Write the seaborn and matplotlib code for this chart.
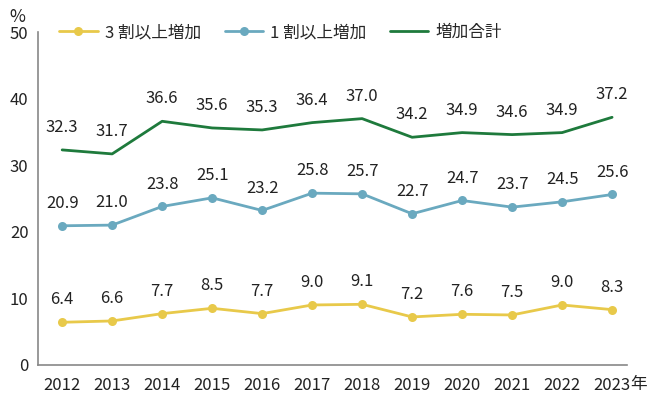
import matplotlib
matplotlib.use('Agg')
import matplotlib.pyplot as plt
import seaborn as sns
import pandas as pd

sns.set_theme(style='white')
plt.rcParams['font.family'] = ['Noto Sans CJK JP', 'DejaVu Sans']

# --- data ---
years = [2012, 2013, 2014, 2015, 2016, 2017, 2018, 2019, 2020, 2021, 2022, 2023]
up30 = [6.4, 6.6, 7.7, 8.5, 7.7, 9.0, 9.1, 7.2, 7.6, 7.5, 9.0, 8.3]
up10 = [20.9, 21.0, 23.8, 25.1, 23.2, 25.8, 25.7, 22.7, 24.7, 23.7, 24.5, 25.6]
total = [32.3, 31.7, 36.6, 35.6, 35.3, 36.4, 37.0, 34.2, 34.9, 34.6, 34.9, 37.2]
series_names = ['3 割以上増加', '1 割以上増加', '増加合計']
colors = ['#e8c94a', '#6aa9bf', '#1e7a3c']

df = pd.DataFrame({'year': years, series_names[0]: up30,
                   series_names[1]: up10, series_names[2]: total})
long = df.melt(id_vars='year', var_name='series', value_name='value')

fig = plt.figure(figsize=(6.58, 4.17), dpi=100)
ax = fig.add_axes([0.058, 0.125, 0.895, 0.798])

for name, col, mk in zip(series_names, colors, ['o', 'o', None]):
    sub = long[long['series'] == name]
    sns.lineplot(data=sub, x='year', y='value', ax=ax, color=col, linewidth=2,
                 marker=mk, markersize=6.5, markeredgewidth=0, label=name)
    for x, y in zip(sub['year'], sub['value']):
        ax.annotate(f'{y:.1f}', (x, y), xytext=(0, 10), textcoords='offset points',
                    ha='center', va='bottom', fontsize=12, color='#222222')

ax.set_xlim(2011.52, 2023.3)
ax.set_ylim(0, 50)
ax.set_yticks([0, 10, 20, 30, 40, 50])
ax.set_xticks(years)
ax.set_xlabel('')
ax.set_ylabel('')
ax.tick_params(axis='both', labelsize=12, colors='#222222', length=0)
ax.tick_params(axis='x', pad=9)
ax.tick_params(axis='y', pad=7)
for s in ['top', 'right']:
    ax.spines[s].set_visible(False)
for s in ['left', 'bottom']:
    ax.spines[s].set_color('#888888')
    ax.spines[s].set_linewidth(1.2)

# unit marks
ax.annotate('年', (2023, 0), xycoords=('data', 'axes fraction'), xytext=(13, -8),
            textcoords='offset points', ha='left', va='top', fontsize=12, color='#222222')
fig.text(0.026, 0.96, '%', fontsize=12.5, ha='center', va='center', color='#222222')

ax.get_legend().remove()
fig.legend(*ax.get_legend_handles_labels(), loc='center left', bbox_to_anchor=(0.09, 0.922),
           ncol=3, frameon=False, fontsize=12, handlelength=2.3, handletextpad=0.45,
           columnspacing=1.4, borderaxespad=0, borderpad=0)

fig.savefig('out.png', dpi=100)
